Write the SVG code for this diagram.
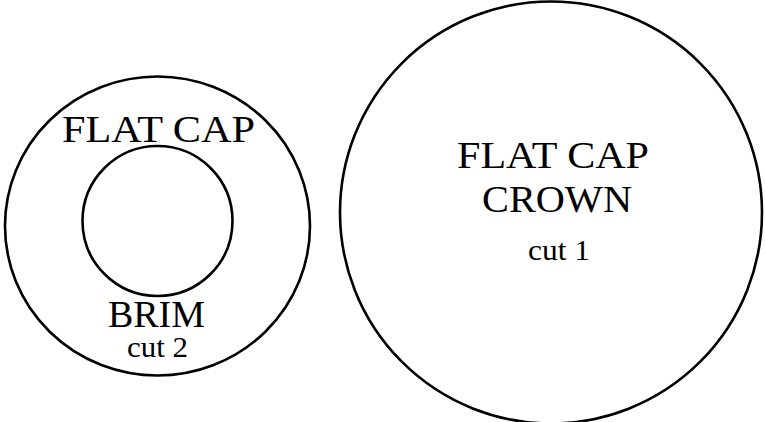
<svg xmlns="http://www.w3.org/2000/svg" width="765" height="422" viewBox="0 0 765 422">
<style>
.outline{fill:none;stroke:#000;stroke-width:2.6}
.lbl{font-family:"Liberation Serif","DejaVu Serif",serif;fill:#000;text-anchor:middle}
.big{font-size:37px}
.small{font-size:29px}
</style>
<rect width="765" height="422" fill="#fff"/>
<g id="brim">
<ellipse class="outline" cx="157.5" cy="226" rx="152.5" ry="149.5"/>
<circle class="outline" cx="157.5" cy="221" r="75"/>
<text class="lbl big" x="158.5" y="142" textLength="193" lengthAdjust="spacingAndGlyphs">FLAT CAP</text>
<text class="lbl big" x="156.5" y="327" textLength="97" lengthAdjust="spacingAndGlyphs">BRIM</text>
<text class="lbl small" x="157.5" y="357" textLength="61" lengthAdjust="spacingAndGlyphs">cut 2</text>
</g>
<g id="crown">
<circle class="outline" cx="551" cy="212.5" r="211"/>
<text class="lbl big" x="553" y="168" textLength="192" lengthAdjust="spacingAndGlyphs">FLAT CAP</text>
<text class="lbl big" x="557" y="212" textLength="150" lengthAdjust="spacingAndGlyphs">CROWN</text>
<text class="lbl small" x="559" y="260" textLength="62" lengthAdjust="spacingAndGlyphs">cut 1</text>
</g>
<g id="connectors"></g>
</svg>
